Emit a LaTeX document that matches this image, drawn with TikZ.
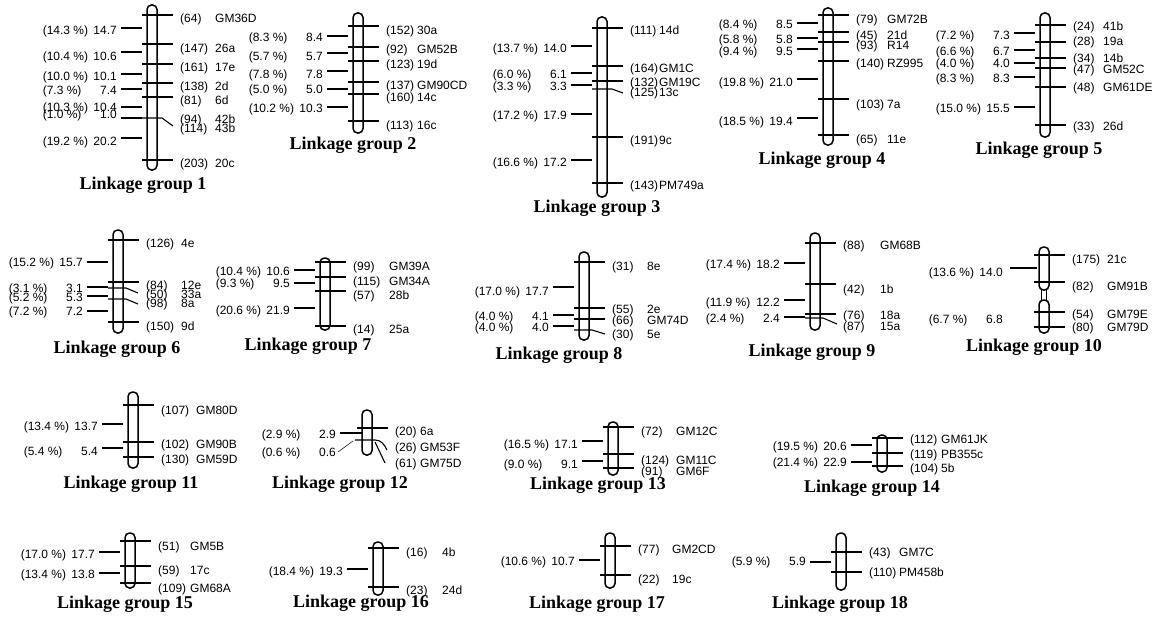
\documentclass[tikz,border=0pt]{standalone}
\usepackage{fontspec}
\setmainfont{Liberation Serif}
\setsansfont{Liberation Sans}
\newcommand\cm[2]{\makebox[48pt][l]{(#1\ \%)}\makebox[26pt][r]{#2}}
\newcommand\mkright[2]{\foreach \yt/\yl/\nm/\mn in {#2}{\draw[mk] (-10,\yt) -- (21,\yt);
  \node[rlab] (mk-\mn) at (28,\yl) {\makebox[#1pt][l]{(\nm)}\mn};}}
\newcommand\mkleft[2]{\foreach \yt/\yl/\pc/\cv [count=\i] in {#2}{\draw[mk] (-31,\yt) -- (-10,\yt);
  \node[llab] (iv-#1-\i) at (-35,\yl) {\cm{\pc}{\cv}};}}
\begin{document}
\begin{tikzpicture}[x=1pt,y=-1pt,
  chrom/.style={draw,line width=1.5pt,rounded corners=4.5pt,minimum width=10pt,inner sep=0pt},
  mk/.style={line width=1.1pt},
  rlab/.style={anchor=west,font=\sffamily\fontsize{12}{14}\selectfont,inner sep=0pt,text height=8.6pt,text depth=2.6pt},
  llab/.style={rlab,anchor=east},
  title/.style={font=\bfseries\fontsize{18}{20}\selectfont,inner sep=0pt}]
\path[fill=white] (0,0) rectangle (1160,618);
% group 1
\begin{scope}[shift={(152,0)}]
\node[chrom,minimum height=165pt] (c1) at (0,87.5) {};
\mkright{35}{15/20/64/GM36D,44/50/147/26a,64/69/161/17e,83/88/138/2d,97/102/81/6d,160/164/203/20c}
\mkleft{1}{28/32/14.3/14.7,52/58/10.4/10.6,74/78/10.0/10.1,89/92/7.3/7.4,107/108/10.3/10.4,118/115/1.0/1.0,138/142/19.2/20.2}
\draw[mk] (-10,118) -- (10,118) -- (21,126);
\node[rlab] (mk-42b) at (28,121) {\makebox[35pt][l]{(94)}42b};
\node[rlab] (mk-43b) at (28,129) {\makebox[35pt][l]{(114)}43b};
\node[title] (t1) at (-9,185) {Linkage group 1};
\end{scope}
% group 2
\begin{scope}[shift={(358,0)}]
\node[chrom,minimum height=120pt] (c2) at (0,73) {};
\mkright{31}{26/32/152/30a,47/51/92/GM52B,61/66/123/19d,82/86/137/GM90CD,94/99/160/14c,121/126/113/16c}
\mkleft{2}{36/39/8.3/8.4,53/58/5.7/5.7,71/76/7.8/7.8,89/90/5.0/5.0,107/110/10.2/10.3}
\node[title] (t2) at (-5,145) {Linkage group 2};
\end{scope}
% group 3
\begin{scope}[shift={(602,0)}]
\node[chrom,minimum height=180pt] (c3) at (0,107) {};
\mkright{29}{28/32/111/14d,66/70/164/GM1C,81/83/132/GM19C,137/141/191/9c,183/186/143/PM749a}
\draw[mk] (-10,89) -- (10,89) -- (21,93);
\node[rlab] (mk-13c) at (28,93) {\makebox[29pt][l]{(125)}13c};
\mkleft{3}{46/50/13.7/14.0,73/75/6.0/6.1,85/88/3.3/3.3,114/117/17.2/17.9,160/163/16.6/17.2}
\node[title] (t3) at (-5,208) {Linkage group 3};
\end{scope}
% group 4
\begin{scope}[shift={(828,0)}]
\node[chrom,minimum height=137pt] (c4) at (0,76.5) {};
\mkright{31}{15/21/79/GM72B,32/37/45/21d,42/47/93/R14,61/65/140/RZ995,99/106/103/7a,135/140/65/11e}
\mkleft{4}{23/26/8.4/8.5,38/41/5.8/5.8,49/53/9.4/9.5,79/83/19.8/21.0,118/122/18.5/19.4}
\node[title] (t4) at (-6,160) {Linkage group 4};
\end{scope}
% group 5
\begin{scope}[shift={(1045,0)}]
\node[chrom,minimum height=124pt] (c5) at (0,75) {};
\mkright{30}{25/28/24/41b,42/43/28/19a,58/60/34/14b,68/71/47/GM52C,87/89/48/GM61DE,125/128/33/26d}
\mkleft{5}{33/37/7.2/7.3,50/53/6.6/6.7,63/65/4.0/4.0,77/80/8.3/8.3,107/110/15.0/15.5}
\node[title] (t5) at (-6,150) {Linkage group 5};
\end{scope}
% group 6
\begin{scope}[shift={(118,0)}]
\node[chrom,minimum height=103pt] (c6) at (0,281.5) {};
\mkright{35}{240/244/126/4e,282/286/84/12e,322/327/150/9d}
\draw[mk] (-10,288) -- (8,288) -- (20,293);
\draw[mk] (-10,299) -- (8,299) -- (20,304);
\node[rlab] (mk-33a) at (28,295) {\makebox[35pt][l]{(50)}33a};
\node[rlab] (mk-8a) at (28,304) {\makebox[35pt][l]{(98)}8a};
\mkleft{6}{262/263/15.2/15.7,287/289/3.1/3.1,296/298/5.2/5.3,311/312/7.2/7.2}
\node[title] (t6) at (-1,349) {Linkage group 6};
\end{scope}
% group 7
\begin{scope}[shift={(325,0)}]
\node[chrom,minimum height=72pt] (c7) at (0,294) {};
\mkright{36}{262/267/99/GM39A,277/282/115/GM34A,291/296/57/28b,326/330/14/25a}
\mkleft{7}{270/272/10.4/10.6,283/284/9.3/9.5,308/311/20.6/21.9}
\node[title] (t7) at (-17,346) {Linkage group 7};
\end{scope}
% group 8
\begin{scope}[shift={(584,0)}]
\node[chrom,minimum height=88pt] (c8) at (0,296) {};
\mkright{35}{262/267/31/8e,308/310/55/2e,319/321/66/GM74D}
\draw[mk] (-10,330) -- (8,330) -- (21,334);
\node[rlab] (mk-5e) at (28,335) {\makebox[35pt][l]{(30)}5e};
\mkleft{8}{287/292/17.0/17.7,315/317/4.0/4.1,326/328/4.0/4.0}
\node[title] (t8) at (-25,355) {Linkage group 8};
\end{scope}
% group 9
\begin{scope}[shift={(815,0)}]
\node[chrom,minimum height=97pt] (c9) at (0,281.5) {};
\mkright{37}{243/246/88/GM68B,284/290/42/1b,314/316/76/18a}
\draw[mk] (-10,318) -- (8,318) -- (22,324);
\node[rlab] (mk-15a) at (28,327) {\makebox[37pt][l]{(87)}15a};
\mkleft{9}{263/265/17.4/18.2,300/303/11.9/12.2,317/319/2.4/2.4}
\node[title] (t9) at (-3,352) {Linkage group 9};
\end{scope}
% group 10
\begin{scope}[shift={(1044,0)}]
\node[chrom,minimum height=43pt] (c10) at (0,268.5) {};
\node[chrom,minimum height=33pt] (c10b) at (0,316.5) {};
\draw[mk] (-2.5,289) -- (-2.5,301) (2.5,289) -- (2.5,301);
\mkright{35}{255/260/175/21c,282/287/82/GM91B,312/315/54/GM79E,327/328/80/GM79D}
\draw[mk] (-34,268) -- (-7,268);
\node[llab] (iv-10-1) at (-41,273) {\cm{13.6}{14.0}};
\node[llab] (iv-10-2) at (-41,320) {\cm{6.7}{6.8}};
\node[title] (t10) at (-10,347) {Linkage group 10};
\end{scope}
% group 11
\begin{scope}[shift={(133,0)}]
\node[chrom,minimum height=76pt] (c11) at (0,430) {};
\mkright{35}{405/411/107/GM80D,442/445/102/GM90B,457/460/130/GM59D}
\mkleft{11}{424/427/13.4/13.7,448/452/5.4/5.4}
\node[title] (t11) at (-2,484) {Linkage group 11};
\end{scope}
% group 12
\begin{scope}[shift={(367,0)}]
\node[chrom,minimum height=45pt] (c12) at (0,432.5) {};
\draw[mk] (-10,428) -- (21,428);
\node[rlab] (mk-6a) at (28,432) {\makebox[25pt][l]{(20)}6a};
\draw[mk] (-12,440) -- (8,440) to[out=0,in=115] (20,450);
\node[rlab] (mk-GM53F) at (28,448) {\makebox[25pt][l]{(26)}GM53F};
\draw[mk] (8,442) -- (18,463);
\node[rlab] (mk-GM75D) at (28,464) {\makebox[25pt][l]{(61)}GM75D};
\draw[mk] (-27,433) -- (-5,433);
\node[llab] (iv-12-1) at (-31,435) {\cm{2.9}{2.9}};
\draw[line width=0.5pt] (-29,452) -- (-14,441);
\node[llab] (iv-12-2) at (-31,453) {\cm{0.6}{0.6}};
\node[title] (t12) at (-27,484) {Linkage group 12};
\end{scope}
% group 13
\begin{scope}[shift={(613,0)}]
\node[chrom,minimum height=53pt] (c13) at (0,448.5) {};
\mkright{35}{427/432/72/GM12C,454/461/124/GM11C,468/472/91/GM6F}
\mkleft{13}{441/445/16.5/17.1,461/465/9.0/9.1}
\node[title] (t13) at (-15,485) {Linkage group 13};
\end{scope}
% group 14
\begin{scope}[shift={(882,0)}]
\node[chrom,minimum height=37pt] (c14) at (0,453.5) {};
\mkright{31}{438/440/112/GM61JK,453/455/119/PB355c,466/469/104/5b}
\mkleft{14}{445/447/19.5/20.6,462/463/21.4/22.9}
\node[title] (t14) at (-10,488) {Linkage group 14};
\end{scope}
% group 15
\begin{scope}[shift={(130,0)}]
\node[chrom,minimum height=55pt] (c15) at (0,560.5) {};
\mkright{32}{541/547/51/GM5B,566/571/59/17c,583/589/109/GM68A}
\mkleft{15}{552/555/17.0/17.7,573/575/13.4/13.8}
\node[title] (t15) at (-5,604) {Linkage group 15};
\end{scope}
% group 16
\begin{scope}[shift={(378,0)}]
\node[chrom,minimum height=53pt] (c16) at (0,568.5) {};
\mkright{36}{548/553/16/4b,587/591/23/24d}
\mkleft{16}{569/572/18.4/19.3}
\node[title] (t16) at (-17,603) {Linkage group 16};
\end{scope}
% group 17
\begin{scope}[shift={(610,0)}]
\node[chrom,minimum height=55pt] (c17) at (0,560.5) {};
\mkright{34}{546/550/77/GM2CD,575/580/22/19c}
\mkleft{17}{560/562/10.6/10.7}
\node[title] (t17) at (-13,604) {Linkage group 17};
\end{scope}
% group 18
\begin{scope}[shift={(841,0)}]
\node[chrom,minimum height=57pt] (c18) at (0,561.5) {};
\mkright{30}{552/553/43/GM7C,572/573/110/PM458b}
\mkleft{18}{562/562/5.9/5.9}
\node[title] (t18) at (-1,604) {Linkage group 18};
\end{scope}
\end{tikzpicture}
\end{document}
